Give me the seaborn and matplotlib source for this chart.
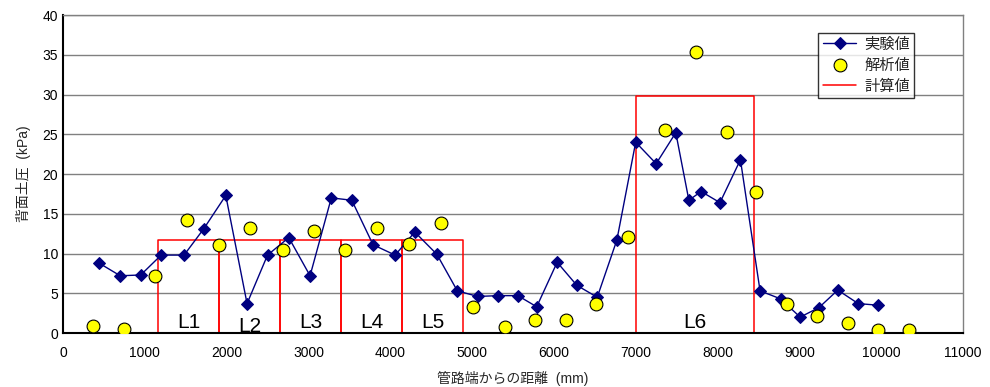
import numpy as np
import pandas as pd
import matplotlib
matplotlib.use("Agg")
import matplotlib.pyplot as plt
import seaborn as sns

# 実験値 (experimental)
exp_x = [440, 700, 950, 1200, 1480, 1720, 1990, 2250, 2500, 2760, 3020, 3280, 3530,
         3790, 4060, 4300, 4570, 4820, 5070, 5320, 5560, 5790, 6040, 6280, 6530, 6770,
         7000, 7250, 7490, 7650, 7800, 8030, 8280, 8520, 8770, 9010, 9240, 9470, 9720, 9960]
exp_y = [8.8, 7.2, 7.3, 9.8, 9.8, 13.1, 17.3, 3.7, 9.8, 12.0, 7.2, 17.0, 16.7,
         11.1, 9.8, 12.7, 9.9, 5.3, 4.6, 4.7, 4.7, 3.3, 8.9, 6.0, 4.5, 11.7,
         24.0, 21.3, 25.2, 16.7, 17.8, 16.4, 21.8, 5.3, 4.3, 2.0, 3.2, 5.4, 3.7, 3.5]

# 解析値 (analysis)
ana_x = [370, 750, 1120, 1520, 1910, 2290, 2690, 3070, 3450, 3840, 4230, 4620, 5010,
         5400, 5770, 6150, 6520, 6900, 7360, 7740, 8120, 8470, 8850, 9220, 9600, 9960, 10340]
ana_y = [0.9, 0.5, 7.2, 14.2, 11.1, 13.2, 10.4, 12.8, 10.4, 13.2, 11.2, 13.8, 3.3,
         0.8, 1.6, 1.6, 3.6, 12.1, 25.5, 35.3, 25.3, 17.7, 3.6, 2.1, 1.2, 0.4, 0.4]

# 計算値 (calculated) blocks
blk_labels = ["L1", "L2", "L3", "L4", "L5", "L6"]
blk_start = [1160, 1910, 2650, 3400, 4145, 7000]
blk_end = [1910, 2650, 3400, 4145, 4890, 8450]
blk_val = [11.7, 11.7, 11.7, 11.7, 11.7, 29.8]

sns.set_style("white")
plt.rcParams['font.family'] = ['Liberation Sans', 'Noto Sans CJK JP', 'DejaVu Sans']

fig = plt.figure(figsize=(9.9, 3.87), dpi=100)
ax = fig.add_axes([0.0636, 0.1395, 0.9091, 0.8217])

df_exp = pd.DataFrame({'x': exp_x, 'y': exp_y})
df_ana = pd.DataFrame({'x': ana_x, 'y': ana_y})

ax.yaxis.grid(True, color='#808080', linewidth=1)
ax.set_axisbelow(True)

# red block outlines
for i in range(len(blk_start)):
    s, e, v = blk_start[i], blk_end[i], blk_val[i]
    ax.plot([s, s, e, e], [0, v, v, 0], color='#FF0000', lw=1.1,
            label='計算値' if i == 0 else None, zorder=2)

sns.lineplot(data=df_exp, x='x', y='y', ax=ax, color='#000080', lw=1,
             marker='D', markersize=6, markeredgecolor='#000080',
             label='実験値', zorder=3)
sns.scatterplot(data=df_ana, x='x', y='y', ax=ax, color='#FFFF00', s=85,
                edgecolor='black', linewidth=0.8, label='解析値', zorder=4)

# block labels
lab_y = [0.6, 0.1, 0.6, 0.6, 0.6, 0.6]
for i in range(len(blk_labels)):
    ax.text((blk_start[i] + blk_end[i]) / 2, lab_y[i], blk_labels[i],
            ha='center', va='baseline', fontsize=15, color='black', zorder=5)

ax.set_xlim(0, 11000)
ax.set_ylim(0, 40)
ax.set_xticks(np.arange(0, 11001, 1000))
ax.set_yticks(np.arange(0, 41, 5))
ax.tick_params(direction='in', length=4, labelsize=10, colors='black')
ax.tick_params(axis='x', pad=9)

ax.set_xlabel('管路端からの距離  (mm)', fontsize=10, labelpad=8)
ax.set_ylabel('背面土圧  (kPa)', fontsize=10, labelpad=8)

for side in ['left', 'bottom']:
    ax.spines[side].set_color('black')
    ax.spines[side].set_linewidth(1.5)
for side in ['top', 'right']:
    ax.spines[side].set_color('#808080')
    ax.spines[side].set_linewidth(1)

h, l = ax.get_legend_handles_labels()
order = [l.index('実験値'), l.index('解析値'), l.index('計算値')]
leg = ax.legend([h[k] for k in order], [l[k] for k in order],
                loc='upper right', bbox_to_anchor=(0.946, 0.944), fontsize=11,
                frameon=True, fancybox=False, edgecolor='black',
                borderpad=0.3, labelspacing=0.45, handlelength=2.2,
                handletextpad=0.5, borderaxespad=0)
leg.get_frame().set_linewidth(1)

fig.savefig('out.png', dpi=100)
